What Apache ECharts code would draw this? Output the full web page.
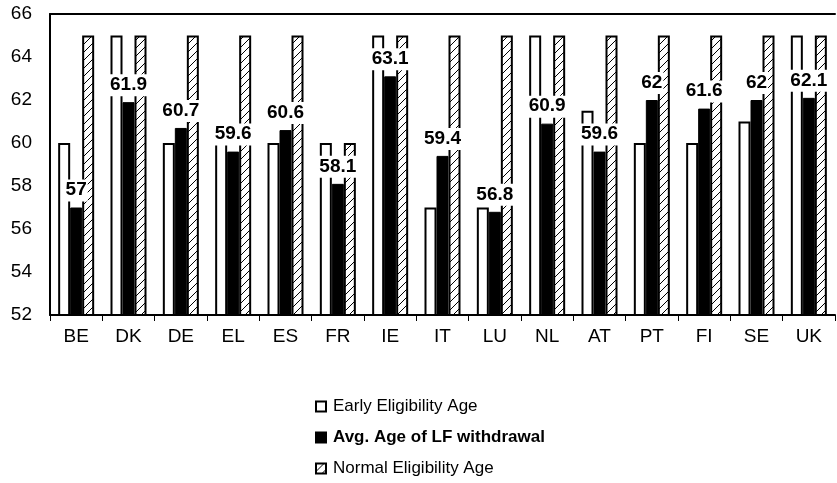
<!DOCTYPE html>
<html>
<head>
<meta charset="utf-8">
<script src="https://cdn.jsdelivr.net/npm/echarts@6/dist/echarts.min.js"></script>
<style>
  html, body { margin: 0; padding: 0; background: #fff; }
  #chart { width: 837px; height: 483px; }
</style>
</head>
<body>
<div id="chart"></div>
<script>
// 国家
var countries = ['BE', 'DK', 'DE', 'EL', 'ES', 'FR', 'IE', 'IT', 'LU', 'NL', 'AT', 'PT', 'FI', 'SE', 'UK'];
// 提前退休资格年龄
var earlyAge = [60, 65, 60, 60, 60, 60, 65, 57, 57, 65, 61.5, 60, 60, 61, 65];
// 平均退出劳动力年龄
var avgAge = [57, 61.9, 60.7, 59.6, 60.6, 58.1, 63.1, 59.4, 56.8, 60.9, 59.6, 62, 61.6, 62, 62.1];
// 正常退休资格年龄
var normalAge = [65, 65, 65, 65, 65, 60, 65, 65, 65, 65, 65, 65, 65, 65, 65];
var yTicks = [52, 54, 56, 58, 60, 62, 64, 66];

var font = 'Arial, "Liberation Sans", sans-serif';

// 斜线填充
function hatch() {
    var c = document.createElement('canvas');
    c.width = 8;
    c.height = 8;
    var ctx = c.getContext('2d');
    ctx.fillStyle = '#fff';
    ctx.fillRect(0, 0, 8, 8);
    ctx.strokeStyle = '#000';
    ctx.lineWidth = 1;
    ctx.beginPath();
    ctx.moveTo(0, 8);
    ctx.lineTo(8, 0);
    ctx.moveTo(-1, 1);
    ctx.lineTo(1, -1);
    ctx.moveTo(7, 9);
    ctx.lineTo(9, 7);
    ctx.stroke();
    return c;
}

var myChart = echarts.init(document.getElementById('chart'));
myChart.setOption({
    animation: false,
    grid: {
        left: 50,
        right: 2,
        top: 14,
        bottom: 168
    },
    legend: {
        orient: 'vertical',
        left: 310,
        top: 393,
        itemGap: 14,
        itemWidth: 10,
        itemHeight: 10,
        icon: 'rect',
        textStyle: { fontFamily: font, fontSize: 17, color: '#000', padding: [0, 0, 0, 2] },
        data: [
            { name: 'Early Eligibility Age' },
            { name: 'Avg. Age of LF withdrawal', textStyle: { fontWeight: 'bold' } },
            { name: 'Normal Eligibility Age' }
        ]
    },
    xAxis: [
        {
            type: 'category',
            data: countries,
            axisLine: { lineStyle: { color: '#000', width: 2 } },
            axisTick: { show: true, length: 6, lineStyle: { color: '#000', width: 1 } },
            axisLabel: { fontFamily: font, fontSize: 19, color: '#000', margin: 12 }
        },
        {
            type: 'category',
            data: countries,
            position: 'top',
            axisLine: { lineStyle: { color: '#000', width: 2 } },
            axisTick: { show: false },
            axisLabel: { show: false }
        }
    ],
    yAxis: {
        type: 'value',
        min: 52,
        max: 66,
        interval: 2,
        axisLine: { show: true, lineStyle: { color: '#000', width: 2 } },
        axisTick: { show: false },
        splitLine: { show: false },
        axisLabel: {
            fontFamily: font, fontSize: 19, color: '#000', margin: 18,
            formatter: function (v) { return yTicks.indexOf(v) >= 0 ? v : ''; }
        }
    },
    series: [
        {
            name: 'Early Eligibility Age',
            type: 'bar',
            barWidth: 12,
            barGap: '0%',
            data: earlyAge,
            itemStyle: { color: '#fff', borderColor: '#000', borderWidth: 2 }
        },
        {
            name: 'Avg. Age of LF withdrawal',
            type: 'bar',
            barWidth: 12,
            data: avgAge,
            itemStyle: { color: '#000', borderColor: '#000', borderWidth: 1 },
            label: {
                show: true,
                position: 'top',
                distance: 6,
                fontFamily: font,
                fontSize: 19,
                fontWeight: 'bold',
                color: '#000',
                backgroundColor: '#fff',
                padding: [1, 1, 2, 1]
            }
        },
        {
            name: 'Normal Eligibility Age',
            type: 'bar',
            barWidth: 12,
            data: normalAge,
            itemStyle: {
                color: { image: hatch(), repeat: 'repeat' },
                borderColor: '#000',
                borderWidth: 2
            }
        }
    ]
});
</script>
</body>
</html>
